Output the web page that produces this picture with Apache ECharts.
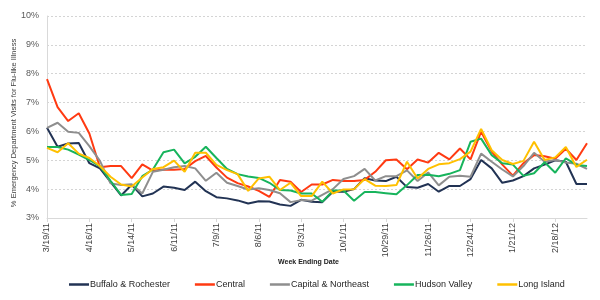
<!DOCTYPE html>
<html>
<head>
<meta charset="utf-8">
<script src="https://cdn.jsdelivr.net/npm/echarts@6/dist/echarts.min.js"></script>
<style>
html,body{margin:0;padding:0;background:#fff;}
#chart{width:600px;height:300px;}
</style>
</head>
<body>
<div id="chart"></div>
<script>
var categories = ["3/19/11","3/26/11","4/2/11","4/9/11","4/16/11","4/23/11","4/30/11","5/7/11","5/14/11","5/21/11","5/28/11","6/4/11","6/11/11","6/18/11","6/25/11","7/2/11","7/9/11","7/16/11","7/23/11","7/30/11","8/6/11","8/13/11","8/20/11","8/27/11","9/3/11","9/10/11","9/17/11","9/24/11","10/1/11","10/8/11","10/15/11","10/22/11","10/29/11","11/5/11","11/12/11","11/19/11","11/26/11","12/3/11","12/10/11","12/17/11","12/24/11","12/31/11","1/7/12","1/14/12","1/21/12","1/28/12","2/4/12","2/11/12","2/18/12","2/25/12","3/3/12","3/10/12"];

var seriesNames = ["Buffalo & Rochester","Central","Capital & Northeast","Hudson Valley","Long Island"];

var buffaloRochester = [6.13,5.47,5.58,5.6,4.9,4.72,4.25,3.78,4.15,3.75,3.85,4.09,4.05,3.97,4.26,3.93,3.72,3.68,3.61,3.5,3.58,3.57,3.47,3.42,3.63,3.56,3.55,3.91,3.91,4.0,4.38,4.3,4.28,4.43,4.07,4.05,4.18,3.91,4.11,4.11,4.35,5.01,4.72,4.22,4.3,4.45,4.72,4.85,5.0,4.95,4.18,4.18];

var central = [7.81,6.84,6.36,6.63,5.93,4.76,4.80,4.80,4.38,4.86,4.64,4.68,4.67,4.70,4.97,5.15,4.75,4.40,4.21,4.09,3.94,3.73,4.32,4.26,3.90,4.16,4.16,4.32,4.28,4.28,4.32,4.6,5.0,5.03,4.69,5.03,4.92,5.26,5.03,5.41,5.03,5.99,5.3,4.85,4.47,4.9,5.18,5.14,5.05,5.4,5.01,5.59];

var capitalNortheast = [6.12,6.30,5.99,5.95,5.49,4.98,4.20,4.14,4.17,3.85,4.6,4.67,4.76,4.80,4.72,4.29,4.57,4.22,4.11,3.99,4.03,3.97,3.86,3.55,3.62,3.6,3.8,4.0,4.35,4.45,4.7,4.3,4.45,4.45,4.65,4.28,4.58,4.13,4.43,4.46,4.43,5.23,4.95,4.68,4.44,4.8,5.26,4.95,5.01,4.92,4.88,4.7];

var hudsonValley = [5.46,5.46,5.37,5.2,5.01,4.79,4.29,3.80,3.83,4.45,4.68,5.28,5.37,4.89,5.12,5.47,5.08,4.70,4.52,4.44,4.39,4.22,3.97,3.95,3.85,3.85,3.56,3.95,3.95,3.6,3.9,3.9,3.86,3.82,4.14,4.49,4.5,4.45,4.53,4.66,5.64,5.75,5.18,4.9,4.85,4.46,4.55,4.93,4.57,5.07,4.84,4.80];

var longIsland = [5.43,5.28,5.59,5.23,5.08,4.80,4.43,4.16,4.09,4.40,4.70,4.76,4.99,4.60,5.26,5.26,4.84,4.66,4.52,3.94,4.37,4.43,3.97,4.22,3.76,3.76,4.26,3.85,3.99,4.0,4.35,4.12,4.11,4.14,4.95,4.37,4.7,4.86,4.9,5.04,5.30,6.09,5.35,5.01,4.87,4.98,5.64,5.01,5.1,5.46,4.77,5.02];

var yTicks = [3,4,5,6,7,8,9,10];

var colors = ["#223354","#FF3A12","#8E8E8E","#17B45C","#FFC000"];
var dataSets = [buffaloRochester, central, capitalNortheast, hudsonValley, longIsland];

var chart = echarts.init(document.getElementById('chart'), null, {renderer:'canvas'});
var font = "'Liberation Sans', Arial, sans-serif";

var series = seriesNames.map(function(n, i){
  return {
    name: n, type: 'line', data: dataSets[i], symbol: 'none', smooth: false,
    lineStyle: {width: 2, color: colors[i]}, itemStyle: {color: colors[i]},
    emphasis: {disabled: true}, animation: false
  };
});

chart.setOption({
  animation: false,
  textStyle: {fontFamily: font},
  color: colors,
  grid: {left: 47, right: 13, top: 16, bottom: 82, containLabel: false, outerBoundsMode: 'none'},
  legend: {
    data: seriesNames, left: 64, top: 275, width: 540, icon: 'rect', itemWidth: 20, itemHeight: 2.5,
    itemGap: 25, textStyle: {fontFamily: font, fontSize: 9, color: '#262626', padding: [0,0,0,-4]}
  },
  xAxis: {
    type: 'category', data: categories, boundaryGap: false,
    name: 'Week Ending Date', nameLocation: 'middle', nameGap: 41, nameMoveOverlap: false,
    nameTextStyle: {fontFamily: font, fontSize: 7, color: '#222', fontWeight: 'bold', padding: [0,17,0,0]},
    axisLine: {lineStyle: {color: '#d9d9d9', width: 1}},
    axisTick: {interval: 3, length: 4, lineStyle: {color: '#d9d9d9'}},
    axisLabel: {interval: 3, rotate: 90, fontSize: 9, color: '#404040', fontFamily: font, margin: 5},
    splitLine: {show: false}
  },
  yAxis: {
    type: 'value', min: 3, max: 10, interval: 1,
    name: '% Emergency Department Visits for Flu-like Illness', nameLocation: 'middle', nameGap: 29, nameMoveOverlap: false,
    nameTextStyle: {fontFamily: font, fontSize: 7.5, color: '#404040', padding: [0,12,0,0]},
    axisLine: {show: true, lineStyle: {color: '#d9d9d9'}},
    axisTick: {show: false},
    axisLabel: {formatter: function(v){ return yTicks.indexOf(v) >= 0 ? v + '%' : ''; }, fontSize: 9, color: '#595959', fontFamily: font, margin: 8},
    splitLine: {show: true, lineStyle: {color: '#d4d4d4', type: [2,2], width: 1}}
  },
  series: series
});
</script>
</body>
</html>
